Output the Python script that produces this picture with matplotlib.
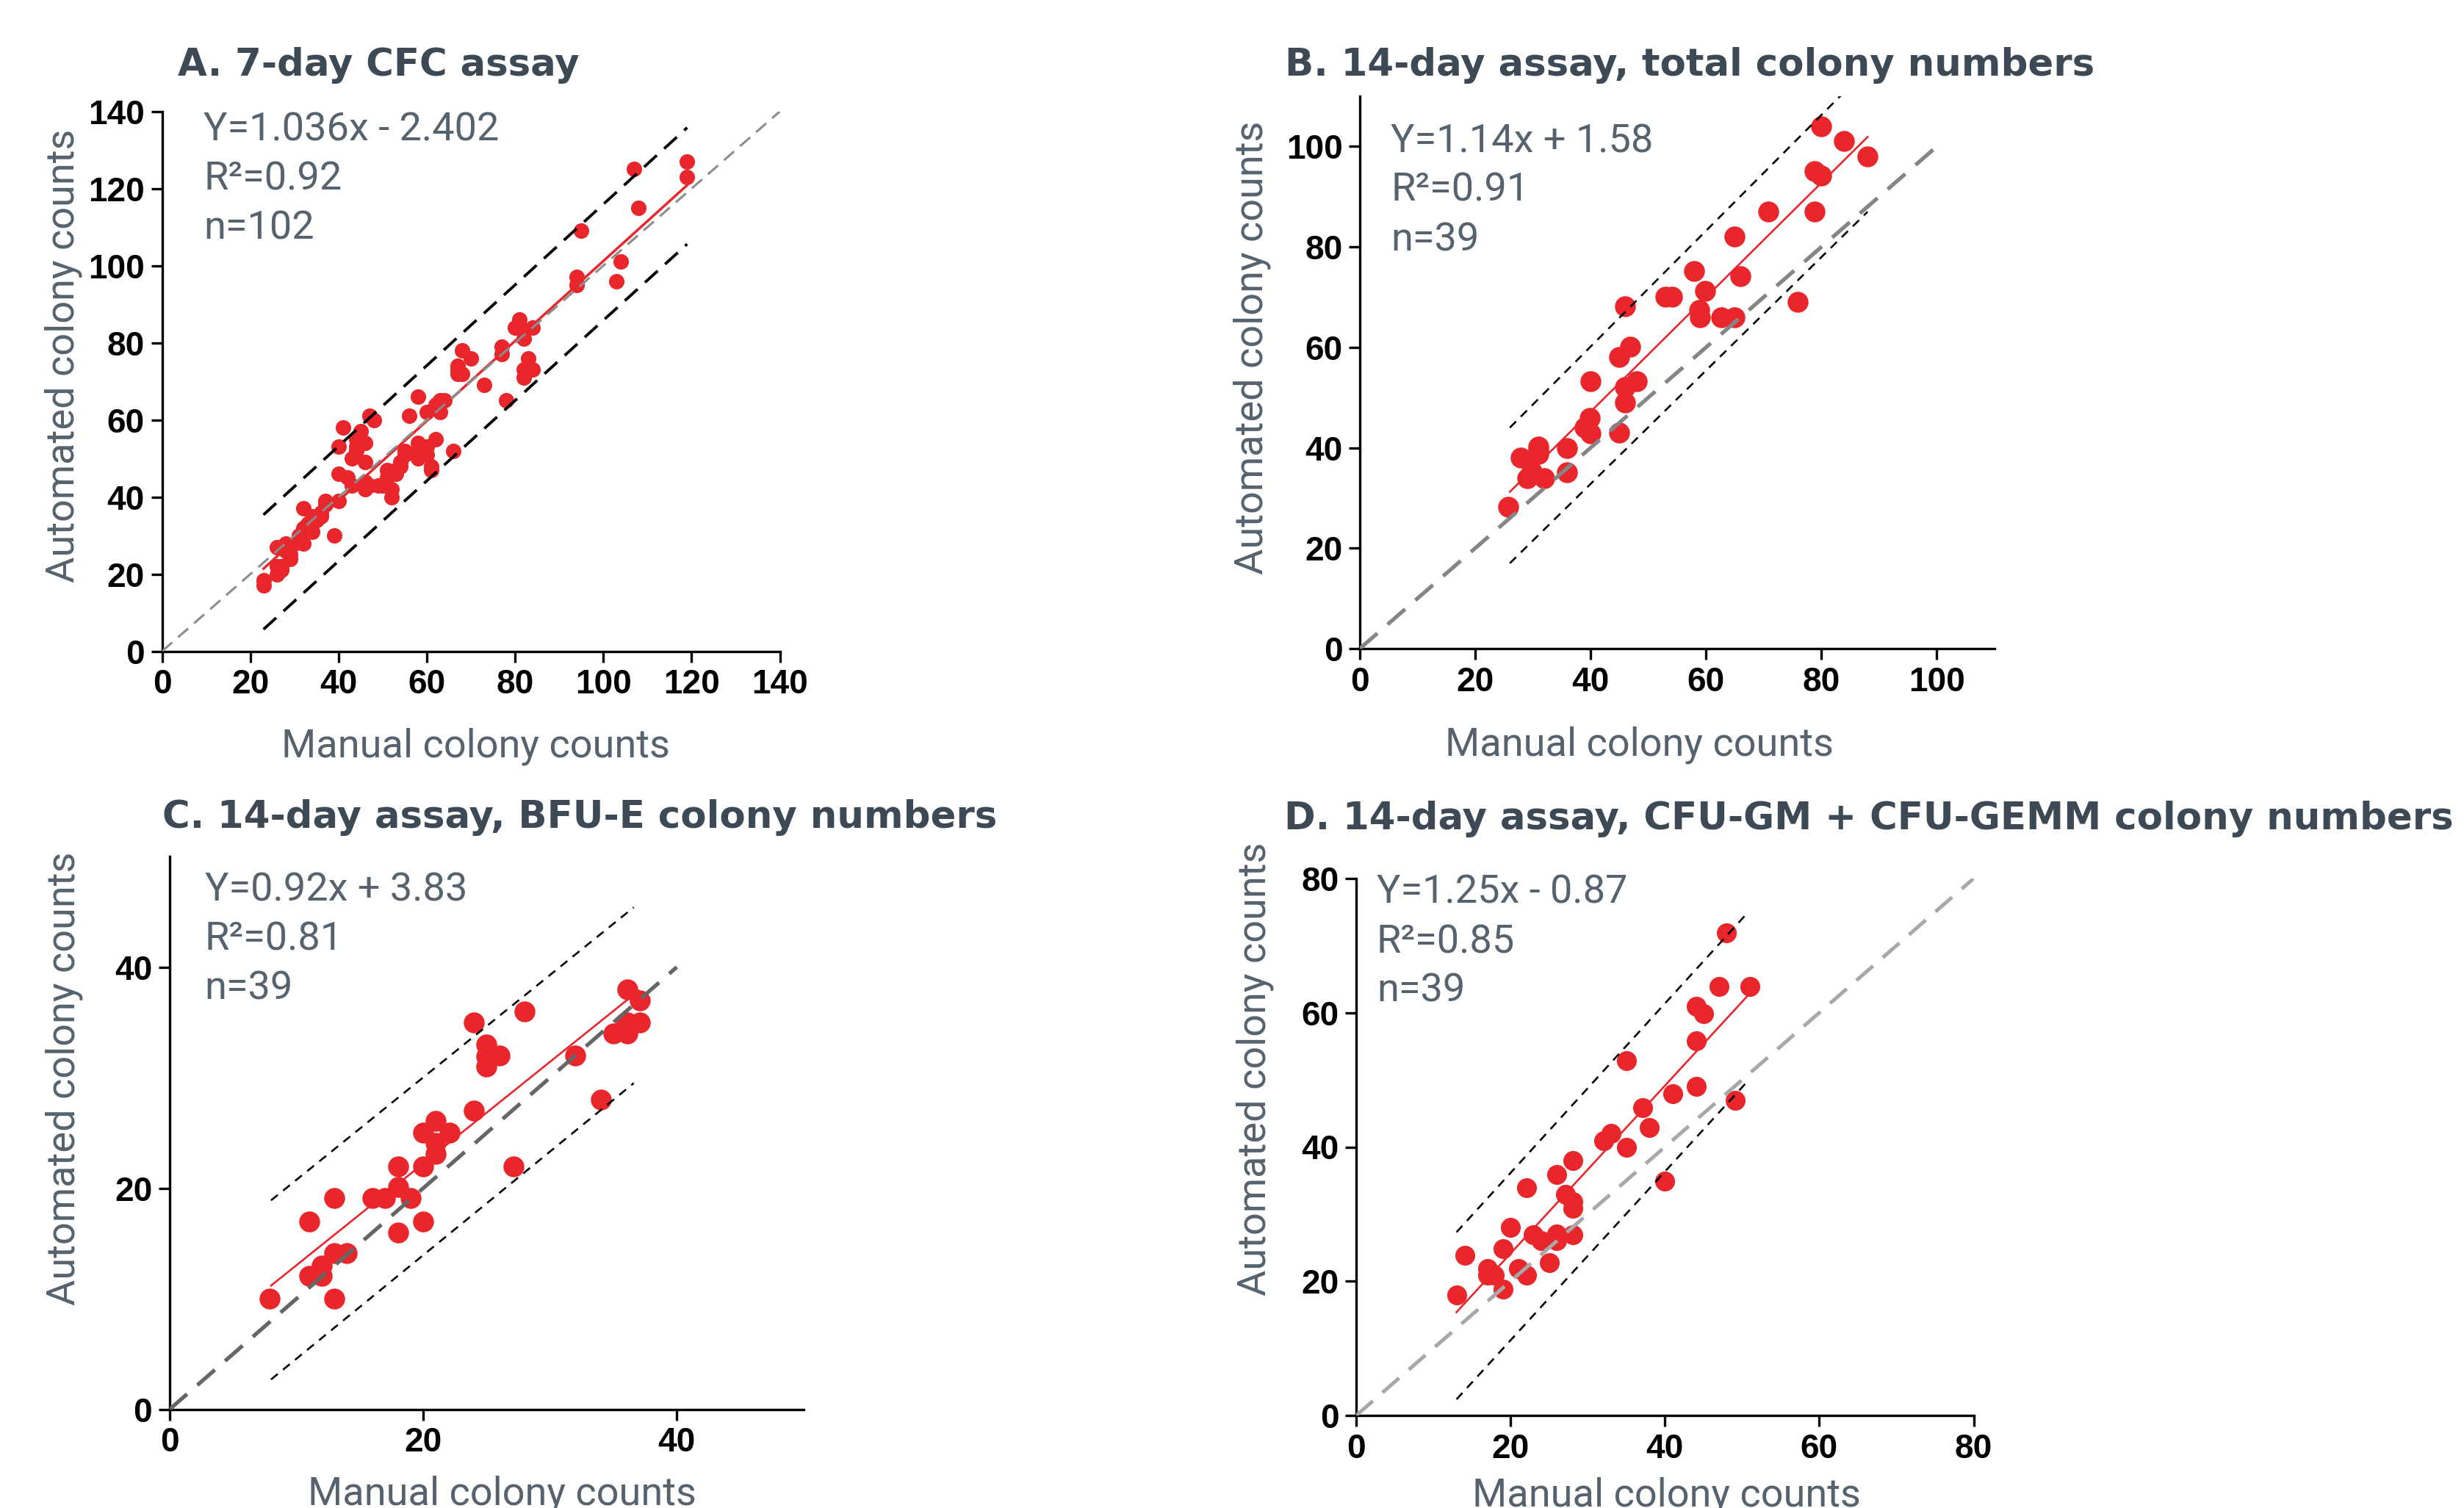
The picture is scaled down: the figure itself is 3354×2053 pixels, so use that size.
import matplotlib
matplotlib.use('Agg')
import matplotlib.pyplot as plt
from matplotlib import font_manager

W, H = 3354, 2053

# --- data ---------------------------------------------------------------
a_manual = [23, 23, 26, 26, 27, 27, 28, 28, 29, 29, 30, 32, 32, 32, 33, 34, 34, 35, 36, 37,
            37, 39, 40, 40, 40, 41, 42, 43, 43, 44, 44, 45, 45, 46, 46, 46, 46, 47, 48, 47,
            49, 50, 51, 51, 52, 52, 53, 53, 54, 54, 55, 56, 58, 58, 58, 58, 59, 60, 60, 61,
            61, 62, 63, 63, 64, 66, 67, 67, 68, 68, 70, 73, 77, 77, 78, 80, 81, 82, 82, 82,
            83, 84, 84, 94, 94, 95, 103, 104, 107, 108, 119, 119,
            26, 29, 31, 36, 44, 55, 60, 62, 67, 81]
a_auto = [17, 18.5, 20, 27, 22, 21, 28, 26, 24, 27, 28, 28, 32, 37, 33, 31, 35, 34, 35, 39,
          38, 30, 39, 46, 53, 58, 45, 43, 50, 52, 55, 54, 57, 49, 54, 42, 44, 61, 60, 43,
          43, 43, 47, 45, 42, 40, 47, 46, 48, 49, 52, 61, 66, 50, 54, 52, 52, 62, 53, 48,
          47, 55, 62, 65, 65, 52, 74, 72, 78, 72, 76, 69, 79, 77, 65, 84, 86, 81, 73, 71,
          76, 84, 73, 95, 97, 109, 96, 101, 125, 115, 127, 123,
          22, 25, 30, 36, 53, 51, 51, 64, 73, 84]

b_manual = [25.7, 27.9, 29, 29.8, 30.9, 30.9, 31.9, 35.9, 35.9, 38.9, 39.8, 40, 40, 44.9,
            44.9, 45.9, 45.9, 45.9, 46.8, 48, 53, 54.1, 57.9, 58.8, 59, 59.9, 62.7, 64.9,
            64.9, 65.9, 70.8, 75.9, 78.8, 78.8, 80, 80, 83.9, 88, 31]
b_auto = [28.2, 38.1, 34, 35.3, 40.2, 38.8, 34, 39.9, 35.1, 44.1, 45.9, 53.2, 42.8, 58.1,
          43, 68.1, 52.1, 49, 60.1, 53.2, 70, 70, 75.2, 67.4, 65.9, 71.2, 66, 66,
          82, 74.1, 87.1, 69, 87.1, 95.1, 94.2, 104, 101.1, 98, 39.5]

c_manual = [7.9, 11, 11, 12, 12, 13, 13, 13, 14, 16, 17, 18, 18, 18, 19, 20, 20, 20, 21, 21,
            21, 22.1, 24, 24, 25, 25, 25, 26, 27.1, 28, 32, 34, 35, 36.1, 36.1, 36.1, 37.1,
            37.1, 36]
c_auto = [10, 17, 12.1, 13, 12.1, 19.1, 14.1, 10, 14.1, 19.1, 19.1, 16, 20.1, 22, 19.1, 17,
          22, 25, 23.1, 24.1, 26.1, 25, 27, 35, 33, 31.9, 31, 32, 22, 36, 32, 28, 34, 38, 35,
          34, 37, 35, 35]

d_manual = [13, 14.1, 17, 17, 17.9, 19, 19, 20, 21, 22.1, 22.1, 22.9, 24, 25, 26, 26, 26,
            27.1, 28.1, 28.1, 28.1, 28.1, 32.1, 33, 35, 35, 37.1, 38, 40, 41, 44.1, 44.1,
            44.1, 45, 47, 48, 49.1, 51, 26]
d_auto = [17.9, 23.9, 21.9, 20.9, 20.9, 18.8, 24.8, 28, 21.9, 20.9, 33.9, 26.9, 26, 22.8,
          26, 26.9, 35.9, 32.9, 26.9, 30.9, 31.9, 38, 40.9, 42, 40, 52.9, 45.9, 42.9, 34.9,
          47.9, 49, 55.8, 61, 59.9, 63.9, 71.9, 47, 63.9, 27]

titles = ["A. 7-day CFC assay",
          "B. 14-day assay, total colony numbers",
          "C. 14-day assay, BFU-E colony numbers",
          "D. 14-day assay, CFU-GM + CFU-GEMM colony numbers"]
equations = ["Y=1.036x - 2.402", "Y=1.14x + 1.58", "Y=0.92x + 3.83", "Y=1.25x - 0.87"]
r_squared = ["R\u00b2=0.92", "R\u00b2=0.91", "R\u00b2=0.81", "R\u00b2=0.85"]
n_labels = ["n=102", "n=39", "n=39", "n=39"]
slopes = [1.036, 1.14, 0.92, 1.25]
intercepts = [-2.402, 1.58, 3.83, -0.87]
fit_ranges = [(23, 119), (26, 88), (8, 37), (13, 51)]
band_x = [(23, 119), (26, 88), (8, 36.6), (13, 50.8)]
band_upper = [(35.4, 135.8), (44, 115.5), (18.9, 45.4), (27.3, 75)]
band_lower = [(5.7, 105.6), (17, 87), (2.7, 29.5), (2.4, 49.9)]
identity_end = [140, 100, 40, 80]
axis_max = [140, 110, 50, 80]
tick_sets = [range(0, 141, 20), range(0, 101, 20), range(0, 41, 20), range(0, 81, 20)]


def pick_font(names, weight='normal'):
    for name in names:
        try:
            font_manager.findfont(font_manager.FontProperties(family=name, weight=weight),
                                  fallback_to_default=False)
            return name
        except Exception:
            pass
    return 'DejaVu Sans'


TICK_FONT = pick_font(['Liberation Sans Narrow', 'DejaVu Sans Condensed', 'Liberation Sans'])
LIGHT_FONT = pick_font(['Roboto', 'Lato', 'Open Sans'])
TITLE_COLOR = '#3d4a55'
TEXT_COLOR = '#56626d'
RED = '#e8262b'

# layout, in pixels of the final image (left, top, right, bottom of the axes)
boxes = [(220.5, 151.7, 1061.5, 886.7),
         (1851, 131, 2715, 883),
         (230.8, 1166, 1094, 1918.7),
         (1846, 1196, 2686.5, 1927)]
title_pos = [(242, 103), (1749, 103.5), (221, 1127), (1748, 1128.5)]
note_pos = [(277, 191.7), (1893, 207), (278.6, 1226.8), (1874, 1230)]
xlabel_pos = [(647, 1030), (2231, 1028), (683, 2048), (2268, 2050)]
ylabel_pos = [(86, 484), (1704, 473), (87, 1468), (1708, 1455)]
marker_size = [230, 420, 420, 380]
identity_color = ['#8c8c8c', '#858585', '#666666', '#a8a8a8']
identity_lw = [2.2, 3.8, 3.8, 3.6]
identity_dash = [(6, 3.5), (6, 3.5), (6, 3.5), (6, 3.5)]
fit_lw = [2.5, 1.9, 1.9, 1.9]
band_lw = [2.8, 1.9, 1.9, 1.9]
band_dash = [(6, 3.5), (4.5, 3.5), (4.5, 3.5), (4.5, 3.5)]


def fx(px):
    return px / W


def fy(py):
    return 1 - py / H


fig = plt.figure(figsize=(W / 100, H / 100), dpi=100)

data = [(a_manual, a_auto), (b_manual, b_auto), (c_manual, c_auto), (d_manual, d_auto)]
tick_style = dict(fontsize=33, fontweight='bold', fontfamily=TICK_FONT)

for i in range(4):
    l, t, r, b = boxes[i]
    ax = fig.add_axes([fx(l), fy(b), (r - l) / W, (b - t) / H])
    xs, ys = data[i]
    ax.scatter(xs, ys, s=marker_size[i], color=RED, linewidths=0, zorder=2)

    x0, x1 = fit_ranges[i]
    ax.plot([x0, x1], [slopes[i] * x0 + intercepts[i], slopes[i] * x1 + intercepts[i]],
            color=RED, lw=fit_lw[i], zorder=3)
    ax.plot([0, identity_end[i]], [0, identity_end[i]], color=identity_color[i],
            lw=identity_lw[i], dashes=identity_dash[i], zorder=4)
    ax.plot(band_x[i], band_upper[i], color='black', lw=band_lw[i], dashes=band_dash[i], zorder=4)
    ax.plot(band_x[i], band_lower[i], color='black', lw=band_lw[i], dashes=band_dash[i], zorder=4)

    ax.set_xlim(0, axis_max[i])
    ax.set_ylim(0, axis_max[i])
    ticks = list(tick_sets[i])
    ax.set_xticks(ticks, labels=[str(v) for v in ticks], **tick_style)
    ax.set_yticks(ticks, labels=[str(v) for v in ticks], **tick_style)
    for side in ['top', 'right']:
        ax.spines[side].set_visible(False)
    for side in ['left', 'bottom']:
        ax.spines[side].set_linewidth(2.4)
    ax.tick_params(direction='out', length=11, width=2.4, pad=6, colors='black')

    tx, ty = title_pos[i]
    fig.text(fx(tx), fy(ty), titles[i], fontsize=37, fontweight='heavy', color=TITLE_COLOR,
             family='DejaVu Sans', va='baseline', ha='left')

    nx, ny = note_pos[i]
    for k, line in enumerate([equations[i], r_squared[i], n_labels[i]]):
        fig.text(fx(nx), fy(ny + 67 * k), line, fontsize=39, fontweight='normal',
                 color=TEXT_COLOR, family=LIGHT_FONT, va='baseline', ha='left')

    lx, ly = xlabel_pos[i]
    fig.text(fx(lx), fy(ly), "Manual colony counts", fontsize=39, fontweight='normal',
             color=TEXT_COLOR, family=LIGHT_FONT, va='baseline', ha='center')
    yx, yy = ylabel_pos[i]
    fig.text(fx(yx), fy(yy), "Automated colony counts", fontsize=39, fontweight='normal',
             color=TEXT_COLOR, family=LIGHT_FONT, va='center', ha='center', rotation=90)

fig.savefig('out.png', dpi=100)
